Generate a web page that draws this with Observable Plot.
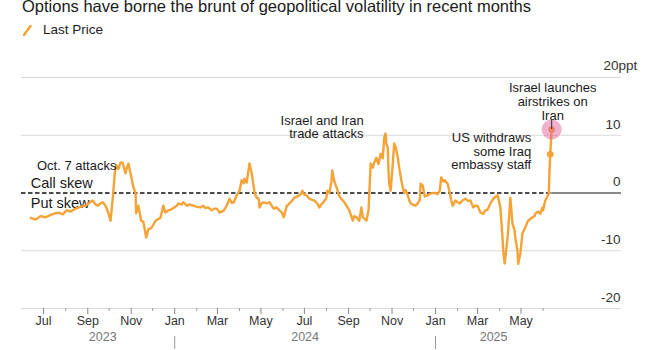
<!DOCTYPE html>
<html><head><meta charset="utf-8">
<script src="https://cdn.jsdelivr.net/npm/d3@7"></script>
<script src="https://cdn.jsdelivr.net/npm/@observablehq/plot@0.6"></script>
<style>
html,body{margin:0;padding:0;background:#fff;}
body{width:665px;height:350px;overflow:hidden;position:relative;font-family:"Liberation Sans",Arial,sans-serif;}
#title{position:absolute;left:22px;top:-2px;font-size:16.5px;line-height:16.5px;color:#1a1a1a;white-space:nowrap;}
#legend{position:absolute;left:22px;top:23px;height:14px;font-size:13.5px;line-height:14px;color:#1a1a1a;padding-left:21px;white-space:nowrap;}
#legend svg{position:absolute;left:0;top:1px;}
#chart{position:absolute;left:0;top:40px;}
</style></head>
<body>
<div id="title">Options have borne the brunt of geopolitical volatility in recent months</div>
<div id="legend"><svg width="12" height="12"><line x1="2" y1="11" x2="8.5" y2="2" stroke="#f5a236" stroke-width="2.4" stroke-linecap="round"/></svg>Last Price</div>
<div id="chart"></div>
<script>
// Series: options skew (ppt), "Last Price"
const dates = [
"2023-06-13","2023-06-20","2023-06-27","2023-07-04","2023-07-11","2023-07-18","2023-07-22","2023-07-28","2023-08-02","2023-08-08",
"2023-08-15","2023-08-22","2023-08-29","2023-09-02","2023-09-08","2023-09-12","2023-09-15","2023-09-19","2023-09-22","2023-09-26",
"2023-09-30","2023-10-03","2023-10-06","2023-10-09","2023-10-11","2023-10-14","2023-10-17","2023-10-20","2023-10-23","2023-10-24",
"2023-10-25","2023-10-28","2023-10-31","2023-11-04","2023-11-07","2023-11-08","2023-11-11","2023-11-15","2023-11-18","2023-11-22",
"2023-11-25","2023-11-29","2023-12-02","2023-12-05","2023-12-09","2023-12-12","2023-12-16","2023-12-19","2023-12-23","2023-12-28",
"2023-12-30","2024-01-04","2024-01-06","2024-01-11","2024-01-13","2024-01-18","2024-01-22","2024-01-27","2024-02-01","2024-02-06",
"2024-02-10","2024-02-13","2024-02-17","2024-02-22","2024-02-26","2024-02-29","2024-03-04","2024-03-10","2024-03-14","2024-03-18",
"2024-03-21","2024-03-24","2024-03-28","2024-04-01","2024-04-04","2024-04-07","2024-04-08","2024-04-11","2024-04-15","2024-04-18",
"2024-04-21","2024-04-22","2024-04-25","2024-04-28","2024-04-29","2024-05-02","2024-05-05","2024-05-09","2024-05-13","2024-05-16",
"2024-05-19","2024-05-23","2024-05-27","2024-05-30","2024-06-02","2024-06-05","2024-06-06","2024-06-10","2024-06-14","2024-06-17",
"2024-06-21","2024-06-26","2024-06-28","2024-07-01","2024-07-04","2024-07-08","2024-07-12","2024-07-15","2024-07-19","2024-07-22",
"2024-07-26","2024-07-29","2024-08-01","2024-08-02","2024-08-05","2024-08-08","2024-08-09","2024-08-12","2024-08-15","2024-08-19",
"2024-08-24","2024-08-26","2024-08-29","2024-09-02","2024-09-07","2024-09-09","2024-09-12","2024-09-16","2024-09-19","2024-09-21",
"2024-09-23","2024-09-26","2024-09-29","2024-10-02","2024-10-05","2024-10-07","2024-10-10","2024-10-13","2024-10-16","2024-10-19",
"2024-10-21","2024-10-23","2024-10-24","2024-10-26","2024-10-27","2024-10-28","2024-10-30","2024-11-02","2024-11-04","2024-11-06",
"2024-11-09","2024-11-11","2024-11-14","2024-11-16","2024-11-18","2024-11-20","2024-11-23","2024-11-25","2024-11-27","2024-11-30",
"2024-12-04","2024-12-07","2024-12-10","2024-12-11","2024-12-14","2024-12-17","2024-12-21","2024-12-25","2024-12-28","2025-01-01",
"2025-01-04","2025-01-07","2025-01-09","2025-01-12","2025-01-14","2025-01-18","2025-01-21","2025-01-23","2025-01-25","2025-01-29",
"2025-02-01","2025-02-04","2025-02-08","2025-02-12","2025-02-16","2025-02-19","2025-02-23","2025-02-26","2025-03-01","2025-03-05",
"2025-03-09","2025-03-12","2025-03-15","2025-03-19","2025-03-23","2025-03-26","2025-03-29","2025-03-30","2025-04-02","2025-04-05",
"2025-04-06","2025-04-08","2025-04-11","2025-04-13","2025-04-16","2025-04-19","2025-04-22","2025-04-23","2025-04-26","2025-04-27",
"2025-04-30","2025-05-03","2025-05-06","2025-05-07","2025-05-10","2025-05-11","2025-05-14","2025-05-17","2025-05-20","2025-05-21",
"2025-05-25","2025-05-28","2025-05-31","2025-06-01","2025-06-04","2025-06-07","2025-06-09","2025-06-10","2025-06-11","2025-06-13"
];
const skew = [
-4.3,-4.6,-4.0,-4.2,-3.8,-3.5,-3.4,-3.7,-3.0,-3.2,
-2.7,-2.4,-2.2,-1.8,-1.3,-2.0,-2.2,-1.8,-1.6,-2.2,
-3.5,-4.8,-1.0,3.5,4.8,4.2,5.3,5.2,3.8,3.4,
4.0,5.1,3.4,1.0,0.0,-3.5,-2.2,-4.8,-5.0,-7.7,
-6.3,-6.1,-5.5,-4.8,-4.5,-4.3,-2.2,-3.4,-3.0,-2.8,
-2.6,-2.2,-1.8,-2.0,-1.6,-2.2,-2.0,-2.2,-2.4,-2.5,
-2.2,-2.6,-2.5,-3.0,-2.7,-2.7,-3.4,-3.0,-2.2,-1.0,
-1.7,-1.6,-0.4,0.4,2.2,1.7,2.5,1.8,5.1,3.4,
1.0,0.0,-0.8,-1.0,-2.5,-1.8,-1.6,-1.8,-1.6,-2.2,
-2.7,-2.5,-3.0,-3.3,-4.2,-2.8,-2.3,-1.8,-1.3,-0.8,
-0.6,-0.2,0.4,-0.3,-0.4,-1.0,-1.2,-1.3,-1.8,-2.5,
-1.8,-1.4,-0.8,0.4,0.0,2.0,3.9,2.0,1.0,-0.6,
-1.3,-1.6,-2.2,-3.0,-4.8,-4.0,-4.2,-4.8,-2.5,-4.2,
-4.4,-4.8,-3.0,5.1,4.4,5.3,6.1,5.0,6.8,6.0,
9.6,10.3,8.5,7.9,4.0,1.6,0.4,5.0,8.6,8.0,
6.2,4.4,2.2,1.0,0.0,0.5,-0.4,-1.2,-1.8,-2.0,
-2.2,-1.8,-1.2,1.6,1.3,-0.6,-0.4,-0.1,0.0,0.0,
-0.2,0.4,2.7,2.0,2.2,1.6,0.0,-1.2,-2.2,-1.3,
-1.6,-1.8,-1.3,-1.0,-1.4,-1.3,-2.5,-2.2,-2.2,-3.4,
-3.6,-3.0,-2.9,-1.8,-1.0,-0.7,-0.4,-0.8,-2.5,-7.7,
-10.0,-12.2,-9.0,-6.5,-0.8,-5.3,-6.5,-7.7,-10.0,-12.3,
-10.5,-7.0,-6.2,-6.0,-5.0,-4.8,-4.5,-4.2,-4.0,-3.6,
-3.2,-3.6,-2.5,-3.0,-1.3,-0.6,0.0,3.9,6.7,11.0
];

// Axis ticks and labels
const yTicks = [20, 10, 0, -10, -20];
const yUnit = "ppt";
const majorMonths = ["2023-07","2023-09","2023-11","2024-01","2024-03","2024-05","2024-07","2024-09","2024-11","2025-01","2025-03","2025-05"];
const minorMonths = ["2023-08","2023-10","2023-12","2024-02","2024-04","2024-06","2024-08","2024-10","2024-12","2025-02","2025-04","2025-06"];
const years = ["2023", "2024", "2025"];
const yearBreaks = ["2024-01-01", "2025-01-01"];
const xDomainDates = ["2023-05-31", "2025-09-19"];

// Annotations
const skewLabels = ["Call skew", "Put skew"];
const oct7 = {date: "2023-10-07", text: "Oct. 7 attacks"};
const tradeAttacks = {date: "2024-10-23", text: "Israel and Iran\ntrade attacks"};
const usWithdraws = {date: "2025-06-11", text: "US withdraws\nsome Iraq\nembassy staff"};
const israelStrikes = {date: "2025-06-13", text: "Israel launches\nairstrikes on\nIran"};

const parse = d3.utcParse("%Y-%m-%d");
const parseM = d3.utcParse("%Y-%m");
const data = dates.map((d, i) => ({date: parse(d), value: skew[i]}));
const first = data[0], last = data[data.length - 1];
const xDomain = xDomainDates.map(parse);
const valueAt = (ds) => { const t = +parse(ds); return data.find(d => +d.date === t); };
const pUS = valueAt(usWithdraws.date), pIL = valueAt(israelStrikes.date);

const yearSpans = years.map(y => {
  const a = new Date(Math.max(+d3.utcParse("%Y")(y), +first.date));
  const b = new Date(Math.min(+d3.utcYear.offset(d3.utcParse("%Y")(y), 1), +last.date));
  return {year: y, mid: new Date((+a + +b) / 2)};
});

const orange = "#f5a236";
const font = '"Liberation Sans", Arial, sans-serif';

const chart = Plot.plot({
  width: 665, height: 310,
  marginLeft: 21, marginRight: 44, marginTop: 37, marginBottom: 42,
  x: {type: "utc", domain: xDomain, axis: null},
  y: {domain: [-20, 20], axis: null},
  style: {fontFamily: font, fontSize: "13px", color: "#222", background: "white", overflow: "visible"},
  marks: [
    Plot.ruleY(yTicks.filter(d => d !== 0), {stroke: "#d9d9d9", strokeWidth: 1}),
    Plot.ruleY([0], {x1: last.date, x2: xDomain[1], stroke: "#111", strokeWidth: 1}),
    Plot.ruleY([0], {x1: xDomain[0], x2: last.date, stroke: "#111", strokeWidth: 1.7, strokeDasharray: "4.5,2.5"}),
    // x axis ticks
    Plot.axisX(minorMonths.map(parseM), {tickSize: 3, tickFormat: () => "", stroke: "#999", strokeWidth: 1}),
    Plot.axisX(majorMonths.map(parseM), {tickSize: 6, tickFormat: () => "", stroke: "#888", strokeWidth: 1}),
    Plot.text(majorMonths.map(parseM), {x: d => d, frameAnchor: "bottom", dy: 16, text: d3.utcFormat("%b"), fontSize: 12.5, fill: "#333"}),
    Plot.text(yearSpans, {x: "mid", frameAnchor: "bottom", dy: 32, text: "year", fontSize: 12.5, fill: "#777"}),
    Plot.ruleX(yearBreaks.map(parse), {stroke: "#999", strokeWidth: 1, insetTop: 259, insetBottom: -41}),
    // y labels
    Plot.text(yTicks.filter(d => d !== 20), {y: d => d, frameAnchor: "right", text: d => String(d), textAnchor: "end", dx: -1, dy: -11, fontSize: 13.5, fill: "#333"}),
    Plot.text([20], {y: d => d, frameAnchor: "right", text: d => d + yUnit, textAnchor: "start", dx: -18, dy: -11.5, fontSize: 13.5, fill: "#333"}),
    // skew labels
    Plot.text([skewLabels[0]], {x: () => first.date, y: () => 0, text: d => d, textAnchor: "start", dy: -10, fontSize: 14.5, fill: "#1a1a1a"}),
    Plot.text([skewLabels[1]], {x: () => first.date, y: () => 0, text: d => d, textAnchor: "start", dy: 10.5, fontSize: 14.5, fill: "#1a1a1a"}),
    // series
    Plot.line(data, {x: "date", y: "value", stroke: orange, strokeWidth: 2.4, strokeLinejoin: "round"}),
    Plot.dot([pUS, pIL], {x: "date", y: "value", r: 3.3, fill: orange}),
    Plot.dot([pIL], {x: "date", y: "value", r: 10, fill: "#e4629a", fillOpacity: 0.5}),
    Plot.ruleX([pIL], {x: "date", y1: d => d.value, y2: d => d.value + 1.6, stroke: "#333", strokeWidth: 1}),
    // annotations
    Plot.text([oct7], {x: d => parse(d.date), y: () => 0, text: "text", textAnchor: "end", dx: 3, dy: -27.5, fontSize: 13, fill: "#1a1a1a"}),
    Plot.text([tradeAttacks], {x: d => parse(d.date), y: () => 0, text: "text", textAnchor: "end", dx: -22, dy: -65.5, lineHeight: 0.98, fontSize: 13, fill: "#1a1a1a"}),
    Plot.text([usWithdraws], {x: d => parse(d.date), y: () => 0, text: "text", textAnchor: "end", dx: -19, dy: -41.5, lineHeight: 1.02, fontSize: 13, fill: "#1a1a1a"}),
    Plot.text([israelStrikes], {x: d => parse(d.date), y: () => 0, text: "text", textAnchor: "middle", dx: 1, dy: -91.5, lineHeight: 1.08, fontSize: 13, fill: "#1a1a1a"})
  ]
});
document.getElementById("chart").appendChild(chart);
</script>
</body></html>
